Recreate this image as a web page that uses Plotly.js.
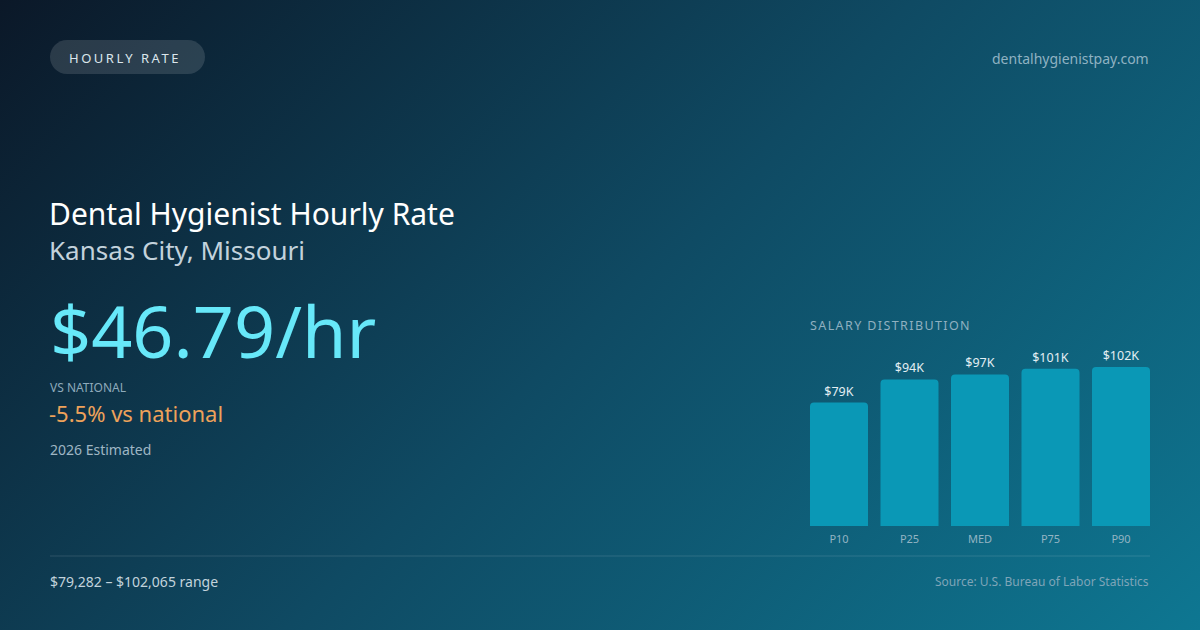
<!DOCTYPE html>
<html>
<head>
<meta charset="utf-8">
<script src="https://cdn.plot.ly/plotly-3.0.1.min.js"></script>
<style>
  html, body { margin: 0; padding: 0; }
  body {
    width: 1200px;
    height: 630px;
    overflow: hidden;
    background: linear-gradient(135deg, #0b1828 0%, #0f4a63 50%, #0e7792 100%);
  }
  #chart { width: 1200px; height: 630px; }
</style>
</head>
<body>
<div id="chart"></div>
<script>
// Salary distribution (annual, USD)
const percentiles = ["P10", "P25", "MED", "P75", "P90"];
const salaries = [79282, 94100, 97323, 100900, 102065];
const barLabels = salaries.map(v => "$" + Math.round(v / 1000) + "K");

const hourlyRate = "$46.79/hr";
const vsNational = "-5.5% vs national";
const rangeText = "$79,282 – $102,065 range";

const W = 1200, H = 630;
const px = x => x / W;
const py = y => 1 - y / H;

function label(text, x, y, size, color, anchor) {
    return {
        text: text,
        xref: "paper", yref: "paper",
        x: px(x), y: py(y),
        xanchor: anchor || "left", yanchor: "middle",
        showarrow: false,
        borderpad: 0,
        borderwidth: 0,
        font: {family: "Noto Sans", size: size, color: color}
    };
}

// pill behind the "HOURLY RATE" badge
function pillPath(x0, y0, x1, y1) {
    const r = (y1 - y0) / 2;
    const k = r * 0.5523;
    const P = (x, y) => px(x) + "," + py(y);
    return "M" + P(x0 + r, y0) +
        " L" + P(x1 - r, y0) +
        " C" + P(x1 - r + k, y0) + " " + P(x1, y0 + r - k) + " " + P(x1, y0 + r) +
        " C" + P(x1, y0 + r + k) + " " + P(x1 - r + k, y1) + " " + P(x1 - r, y1) +
        " L" + P(x0 + r, y1) +
        " C" + P(x0 + r - k, y1) + " " + P(x0, y0 + r + k) + " " + P(x0, y0 + r) +
        " C" + P(x0, y0 + r - k) + " " + P(x0 + r - k, y0) + " " + P(x0 + r, y0) + " Z";
}

const trace = {
    type: "bar",
    x: percentiles,
    y: salaries,
    text: barLabels,
    textposition: "outside",
    cliponaxis: false,
    textfont: {family: "Noto Sans", size: 12.5, color: "#e3eef3"},
    marker: {color: "#0a98b6", cornerradius: 4},
    hoverinfo: "skip"
};

const layout = {
    width: W,
    height: H,
    margin: {l: 0, r: 0, t: 0, b: 0},
    paper_bgcolor: "rgba(0,0,0,0)",
    plot_bgcolor: "rgba(0,0,0,0)",
    showlegend: false,
    bargap: 0.177,
    xaxis: {
        type: "category",
        domain: [803.75 / W, 1156.25 / W],
        showgrid: false,
        zeroline: false,
        showline: false,
        ticks: "",
        ticklabelstandoff: 5,
        tickfont: {family: "Noto Sans", size: 11, color: "#93b4c3"},
        fixedrange: true
    },
    yaxis: {
        domain: [py(526), py(340)],
        range: [0, 119400],
        visible: false,
        fixedrange: true
    },
    shapes: [
        {
            type: "path",
            xref: "paper", yref: "paper",
            path: pillPath(50, 40, 205, 74),
            fillcolor: "rgba(255,255,255,0.13)",
            line: {width: 0}
        },
        {
            type: "line",
            xref: "paper", yref: "paper",
            x0: px(50), x1: px(1150), y0: py(556), y1: py(556),
            line: {color: "rgba(255,255,255,0.13)", width: 1}
        }
    ],
    annotations: [
        label('<span style="letter-spacing:2.5px">HOURLY RATE</span>', 69, 58, 13, "#dbe6ec"),
        label("dentalhygienistpay.com", 1149, 58, 14, "#8fb2c2", "right"),
        label("Dental Hygienist Hourly Rate", 49, 213, 30, "#ffffff"),
        label("Kansas City, Missouri", 49, 250, 26, "#c3d2dc"),
        label(hourlyRate, 50, 330, 72, "#67e8f9"),
        label("VS NATIONAL", 50, 387, 12, "#8eaabb"),
        label(vsNational, 49, 413, 22, "#eea25a"),
        label("2026 Estimated", 50, 449, 14, "#9fb6c4"),
        label('<span style="letter-spacing:1.4px">SALARY DISTRIBUTION</span>', 810, 325, 12.5, "#8fb0c0"),
        label(rangeText, 50, 581, 14, "#c2d3dc"),
        label("Source: U.S. Bureau of Labor Statistics", 1149, 581, 12, "#7fa5b8", "right")
    ]
};

Plotly.newPlot("chart", [trace], layout, {displayModeBar: false, staticPlot: true});
</script>
</body>
</html>
